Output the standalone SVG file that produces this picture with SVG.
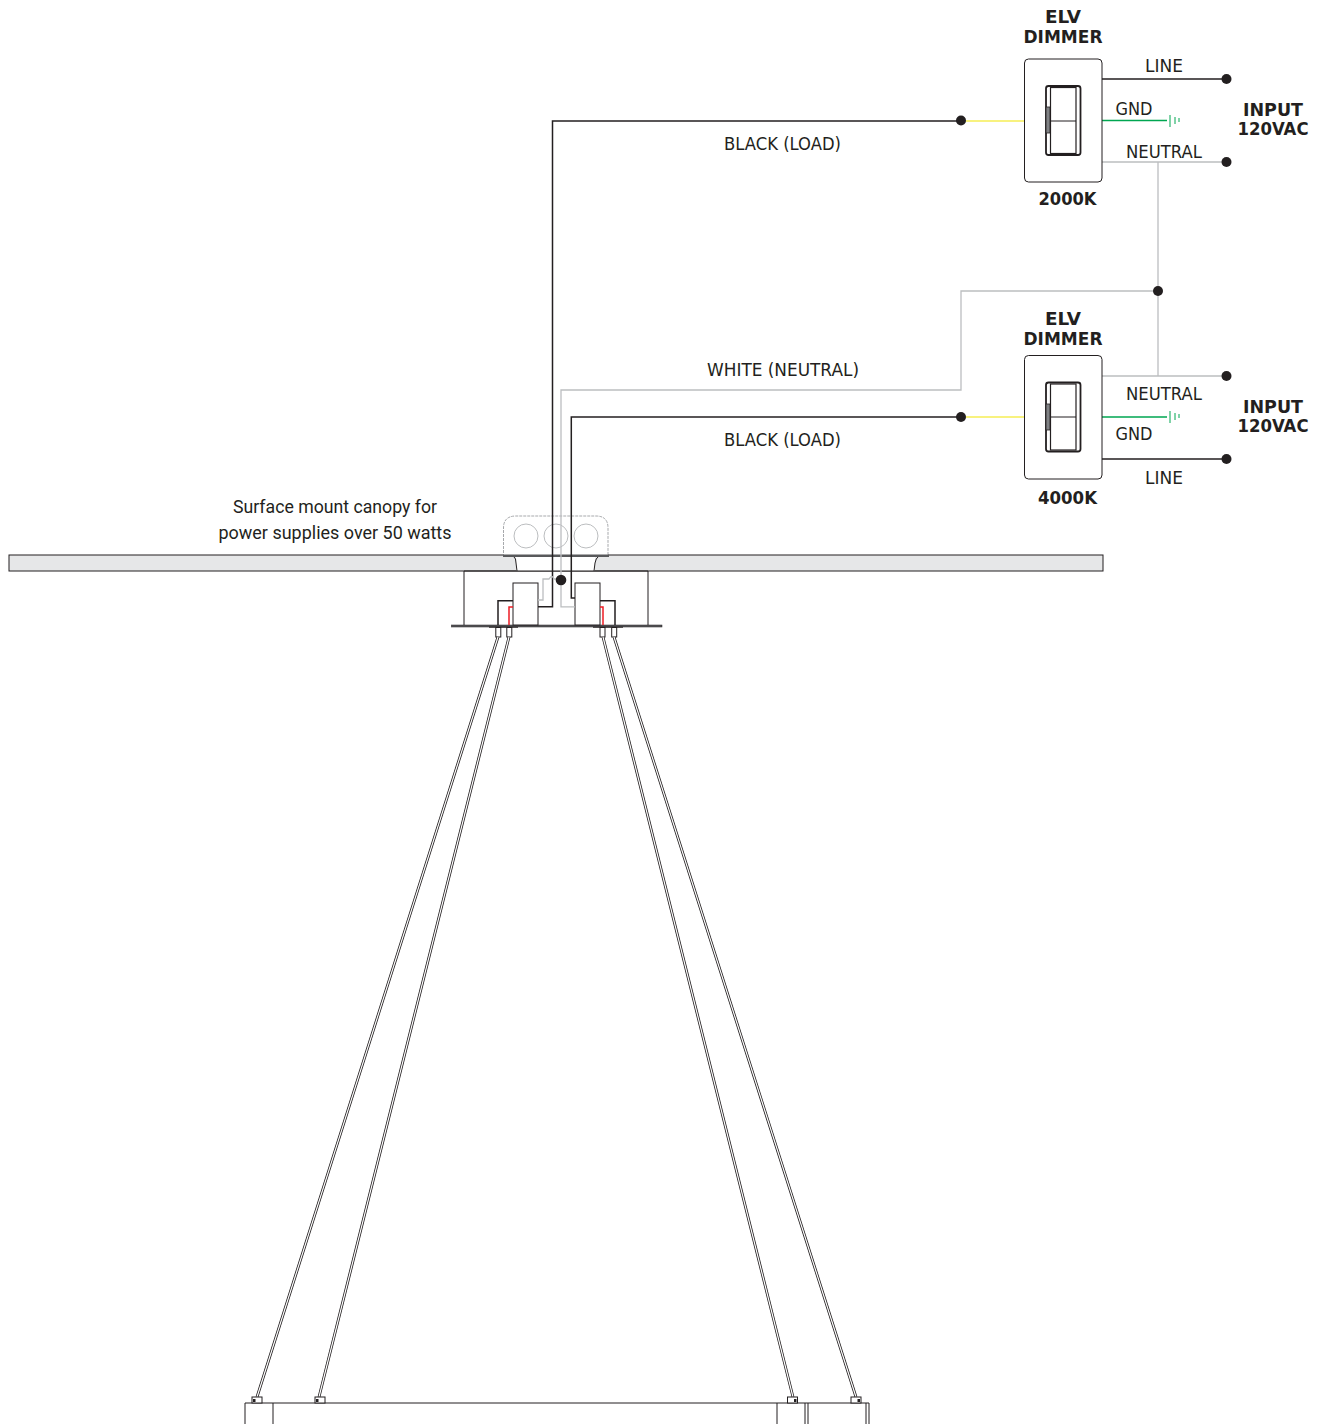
<svg xmlns="http://www.w3.org/2000/svg" width="1326" height="1424" viewBox="0 0 1326 1424">
<style>
text{font-family:"DejaVu Sans","Liberation Sans",sans-serif;fill:#231f20;font-size:17px}
.b{font-weight:bold;font-size:17.5px}
.n{font-family:"Roboto","Liberation Sans",sans-serif;font-size:18px}
.k{fill:none;stroke:#231f20;stroke-width:1.5}
.w{fill:none;stroke:#bcbec0;stroke-width:1.3}
.g{fill:none;stroke:#00a651;stroke-width:1.4}
.g2{fill:none;stroke:#00a651;stroke-width:1}
.y{fill:none;stroke:#f2e500;stroke-width:1.2}
.t{fill:none;stroke:#231f20;stroke-width:1}
.s{fill:#fff;stroke:#231f20;stroke-width:1}
.d{fill:#231f20}
.rod{fill:none;stroke:#231f20;stroke-width:2.8}
.rod2{fill:none;stroke:#fff;stroke-width:1.2}
</style>
<g id="ceiling"><rect x="9" y="555" width="1094" height="16" fill="#e6e7e8" stroke="#231f20" stroke-width="1"/></g>
<g id="junction-box">
<path d="M503.500 557V528Q503.500 516 516 516H596Q608 516 608 528V557" fill="#fff" stroke="#a7a9ac" stroke-width="1" stroke-dasharray="3 1"/>
<circle cx="526" cy="536" r="12" fill="none" stroke="#bcbec0"/><circle cx="556" cy="536" r="12" fill="none" stroke="#bcbec0"/><circle cx="586" cy="536" r="12" fill="none" stroke="#bcbec0"/>
<rect x="516" y="557" width="79" height="14" fill="#fff"/>
<path d="M503 555.800H609" stroke="#58595b" stroke-width="2.500" fill="none"/>
<path d="M514 557Q516 558 516 563L517 571M598 557Q596 558 595 563L594 571" fill="none" stroke="#231f20" stroke-width="1"/>
</g>
<g id="canopy">
<path d="M464 571V625M648 571V625" class="t"/>
<path d="M464 571H648" class="t"/>
<rect x="451.500" y="625" width="210.500" height="2" fill="#58595b" stroke="#231f20" stroke-width=".5"/>
<rect x="489" y="626.700" width="29" height="1" class="d"/><rect x="593" y="626.700" width="30" height="1" class="d"/>
<rect x="495.800" y="627.500" width="5" height="9.500" class="s"/><rect x="506.800" y="627.500" width="5" height="9.500" class="s"/>
<rect x="600" y="627.500" width="5" height="9.500" class="s"/><rect x="611.700" y="627.500" width="5" height="9.500" class="s"/>
</g>
<g id="power-supply-left"><rect x="513" y="583" width="25" height="42" class="s"/></g>
<g id="power-supply-right"><rect x="575" y="583" width="25" height="42" class="s"/></g>
<g id="connectors">
<path d="M498 625V600.800H513M615 625V600.800H600" class="k"/>
<path d="M509 625V607H513M603 625V607H600" fill="none" stroke="#ed1c24" stroke-width="1.500"/>
<path d="M961 121H552.500V606.800H538" class="k"/>
<path d="M961 417H571.300V598H575" class="k"/>
<path d="M1158 291H961V390H561V606.800H575" class="w"/>
<path d="M538 600H543V579H549Q552 574 554 579H561" class="w"/>
<path d="M966 121H1024M966 417H1024" class="y"/>
<path d="M1102 79H1226M1102 459H1226" class="k"/>
<path d="M1102 120.500H1167M1102 417H1167" class="g"/>
<path d="M1170 115V127M1175 117V124M1179 118V122M1170 411V423M1175 413V420M1179 414V418" class="g2"/>
<path d="M1102 162H1226M1102 376H1226M1158 162V376" class="w"/>
<path d="M257 1397L498 637M319 1397L509 637M793 1397L603 637M856 1397L614 637" class="rod"/>
<path d="M257 1397L498 637M319 1397L509 637M793 1397L603 637M856 1397L614 637" class="rod2"/>
<circle cx="961" cy="120.500" r="5" class="d"/><circle cx="961" cy="417" r="5" class="d"/><circle cx="1158" cy="291" r="5" class="d"/>
<circle cx="1226.500" cy="79" r="5" class="d"/><circle cx="1226.500" cy="162" r="5" class="d"/><circle cx="1226.500" cy="376" r="5" class="d"/><circle cx="1226.500" cy="459" r="5" class="d"/>
<circle cx="561" cy="580" r="5.300" class="d"/>
</g>
<g id="dimmer-2000k">
<rect x="1024.500" y="59" width="77.500" height="123" rx="4" fill="#fff" stroke="#231f20"/>
<rect x="1046" y="86" width="34.500" height="69" rx="2.500" fill="#fff" stroke="#231f20" stroke-width="1.800"/>
<rect x="1050.500" y="87.500" width="25.500" height="66" fill="#fff" stroke="#231f20" stroke-width="1.200"/>
<path d="M1050.500 121H1076" class="t"/>
<rect x="1046" y="107" width="4" height="26" fill="#808285" stroke="#231f20" stroke-width=".8"/>
</g>
<g id="dimmer-4000k">
<rect x="1024.500" y="355.500" width="77.500" height="123.500" rx="4" fill="#fff" stroke="#231f20"/>
<rect x="1046" y="382.500" width="34.500" height="69" rx="2.500" fill="#fff" stroke="#231f20" stroke-width="1.800"/>
<rect x="1050.500" y="384" width="25.500" height="66" fill="#fff" stroke="#231f20" stroke-width="1.200"/>
<path d="M1050.500 417H1076" class="t"/>
<rect x="1046" y="404" width="4" height="26" fill="#808285" stroke="#231f20" stroke-width=".8"/>
</g>
<g id="luminaire">
<path d="M245 1424V1403H869V1424M273 1403V1424M777 1403V1424M805 1403V1424M808 1403V1424M866 1403V1424" class="t"/>
<rect x="252" y="1397" width="10" height="6" class="s"/><rect x="315" y="1397" width="10" height="6" class="s"/><rect x="787.500" y="1397" width="10" height="6" class="s"/><rect x="851" y="1397" width="10" height="6" class="s"/>
<rect x="253" y="1399" width="2.500" height="3" class="d"/><rect x="316" y="1399" width="2.500" height="3" class="d"/><rect x="794" y="1399" width="2.500" height="3" class="d"/><rect x="857.500" y="1399" width="2.500" height="3" class="d"/>
</g>
<g id="labels">
<text class="b" x="1063" y="23" text-anchor="middle" textLength="36" lengthAdjust="spacingAndGlyphs">ELV</text>
<text class="b" x="1063" y="43" text-anchor="middle" textLength="79" lengthAdjust="spacingAndGlyphs">DIMMER</text>
<text class="b" x="1067.500" y="205" text-anchor="middle" textLength="58" lengthAdjust="spacingAndGlyphs">2000K</text>
<text class="b" x="1063" y="325" text-anchor="middle" textLength="36" lengthAdjust="spacingAndGlyphs">ELV</text>
<text class="b" x="1063" y="345" text-anchor="middle" textLength="79" lengthAdjust="spacingAndGlyphs">DIMMER</text>
<text class="b" x="1067.500" y="504" text-anchor="middle" textLength="59" lengthAdjust="spacingAndGlyphs">4000K</text>
<text class="b" x="1273" y="116" text-anchor="middle" textLength="60" lengthAdjust="spacingAndGlyphs">INPUT</text>
<text class="b" x="1273" y="135" text-anchor="middle" textLength="71" lengthAdjust="spacingAndGlyphs">120VAC</text>
<text class="b" x="1273" y="413" text-anchor="middle" textLength="60" lengthAdjust="spacingAndGlyphs">INPUT</text>
<text class="b" x="1273" y="432" text-anchor="middle" textLength="71" lengthAdjust="spacingAndGlyphs">120VAC</text>
<text x="1164" y="71.500" text-anchor="middle" textLength="38" lengthAdjust="spacingAndGlyphs">LINE</text>
<text x="1134" y="115" text-anchor="middle" textLength="37" lengthAdjust="spacingAndGlyphs">GND</text>
<text x="1164" y="157.500" text-anchor="middle" textLength="76" lengthAdjust="spacingAndGlyphs">NEUTRAL</text>
<text x="1164" y="400" text-anchor="middle" textLength="76" lengthAdjust="spacingAndGlyphs">NEUTRAL</text>
<text x="1134" y="439.500" text-anchor="middle" textLength="37" lengthAdjust="spacingAndGlyphs">GND</text>
<text x="1164" y="483.500" text-anchor="middle" textLength="38" lengthAdjust="spacingAndGlyphs">LINE</text>
<text x="782.500" y="150" text-anchor="middle" textLength="117" lengthAdjust="spacingAndGlyphs">BLACK (LOAD)</text>
<text x="783" y="376" text-anchor="middle" textLength="152" lengthAdjust="spacingAndGlyphs">WHITE (NEUTRAL)</text>
<text x="782.500" y="446" text-anchor="middle" textLength="117" lengthAdjust="spacingAndGlyphs">BLACK (LOAD)</text>
<text class="n" x="335" y="512.500" text-anchor="middle" textLength="204" lengthAdjust="spacingAndGlyphs">Surface mount canopy for</text>
<text class="n" x="335" y="539" text-anchor="middle" textLength="233" lengthAdjust="spacingAndGlyphs">power supplies over 50 watts</text>
</g>
</svg>
